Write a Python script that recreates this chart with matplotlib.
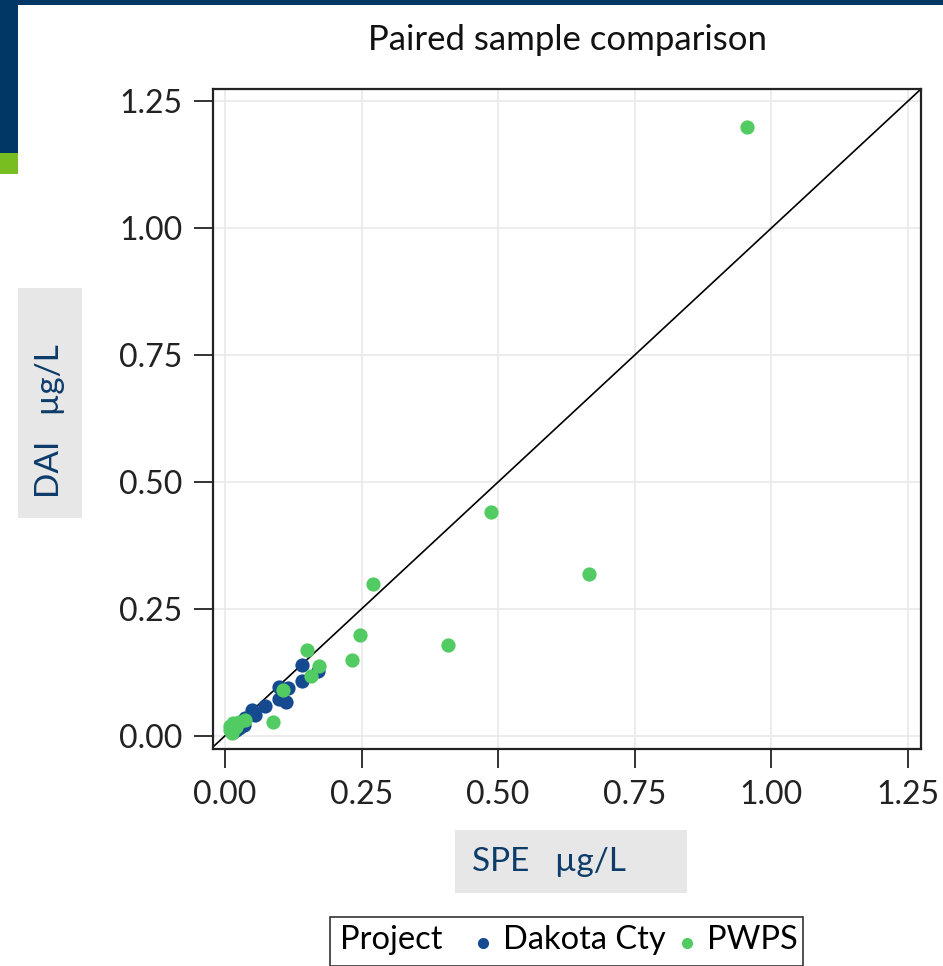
import matplotlib.pyplot as plt
from matplotlib.patches import Rectangle
from matplotlib.lines import Line2D

plt.rcParams['font.family'] = ['Lato', 'DejaVu Sans']

# Data
dakota_spe = [0.140, 0.171, 0.140, 0.098, 0.116, 0.098, 0.112, 0.073, 0.049,
              0.055, 0.037, 0.034, 0.021, 0.030, 0.015, 0.025]
dakota_dai = [0.140, 0.127, 0.108, 0.097, 0.095, 0.072, 0.066, 0.059, 0.051,
              0.041, 0.035, 0.022, 0.012, 0.020, 0.008, 0.015]
pwps_spe = [0.955, 0.487, 0.666, 0.271, 0.247, 0.408, 0.232, 0.150, 0.172,
            0.157, 0.106, 0.088, 0.037, 0.015, 0.009, 0.012, 0.025, 0.020, 0.010]
pwps_dai = [1.200, 0.440, 0.319, 0.299, 0.199, 0.179, 0.150, 0.169, 0.138,
            0.118, 0.091, 0.028, 0.031, 0.025, 0.012, 0.005, 0.028, 0.018, 0.020]
ticks = [0.00, 0.25, 0.50, 0.75, 1.00, 1.25]

BLUE = '#154a91'
GREEN = '#52cc62'
NAVY = '#0d3c6a'
W, H = 943, 966

fig = plt.figure(figsize=(W / 100, H / 100), dpi=100)

def px_rect(x0, y0, x1, y1, color):
    # rectangle given in pixel coords (top-left origin)
    fig.add_artist(Rectangle((x0 / W, 1 - y1 / H), (x1 - x0) / W, (y1 - y0) / H,
                             transform=fig.transFigure, color=color, lw=0, zorder=0))

# slide decoration
px_rect(0, 0, W, 5, '#003764')
px_rect(0, 0, 18, 153, '#003764')
px_rect(0, 153, 18, 174, '#78be20')

ax = fig.add_axes([213 / W, 1 - 749 / H, (921 - 213) / W, (749 - 89) / H])
ax.set_xlim(-0.022, 1.274)
ax.set_ylim(-0.026, 1.274)
ax.set_xticks(ticks)
ax.set_yticks(ticks)
ax.set_xticklabels(['%.2f' % t for t in ticks])
ax.set_yticklabels(['%.2f' % t for t in ticks])
ax.grid(True, color='#e9e9e9', lw=1.2)
ax.set_axisbelow(True)
for s in ax.spines.values():
    s.set_linewidth(1.6)
    s.set_color('#222222')
ax.tick_params(direction='out', length=14, width=1.3, labelsize=23,
               colors='#222222', pad=8)

ax.plot([-0.03, 1.3], [-0.03, 1.3], color='black', lw=1.2, zorder=2)
ax.scatter(dakota_spe, dakota_dai, s=105, color=BLUE, lw=0, zorder=3)
ax.scatter(pwps_spe, pwps_dai, s=105, color=GREEN, lw=0, zorder=4)

fig.text(568 / W, 1 - 40 / H, 'Paired sample comparison', ha='center', va='center',
         fontsize=25, color='#111111')

# axis label boxes
px_rect(18, 288, 82, 518, '#e7e7e7')
fig.text(50 / W, 1 - 421 / H, 'DAI   µg/L', rotation=90, ha='center', va='center',
         fontsize=24, color=NAVY)
px_rect(455, 830, 687, 893, '#e7e7e7')
fig.text(472 / W, 1 - 862 / H, 'SPE   µg/L', ha='left', va='center',
         fontsize=24, color=NAVY)

# legend
fig.add_artist(Rectangle((330 / W, 0), (803 - 330) / W, (H - 917) / H,
                         transform=fig.transFigure, facecolor='white',
                         edgecolor='#333333', lw=1.2))
fig.text(340 / W, 1 - 940 / H, 'Project', ha='left', va='center', fontsize=23.5)
fig.add_artist(Line2D([483 / W], [1 - 943 / H], marker='o', ms=7, color=BLUE,
                      lw=0, transform=fig.transFigure))
fig.text(503 / W, 1 - 940 / H, 'Dakota Cty', ha='left', va='center', fontsize=23.5)
fig.add_artist(Line2D([687 / W], [1 - 943 / H], marker='o', ms=7, color=GREEN,
                      lw=0, transform=fig.transFigure))
fig.text(707 / W, 1 - 940 / H, 'PWPS', ha='left', va='center', fontsize=23.5)

fig.savefig('out.png', dpi=100)
